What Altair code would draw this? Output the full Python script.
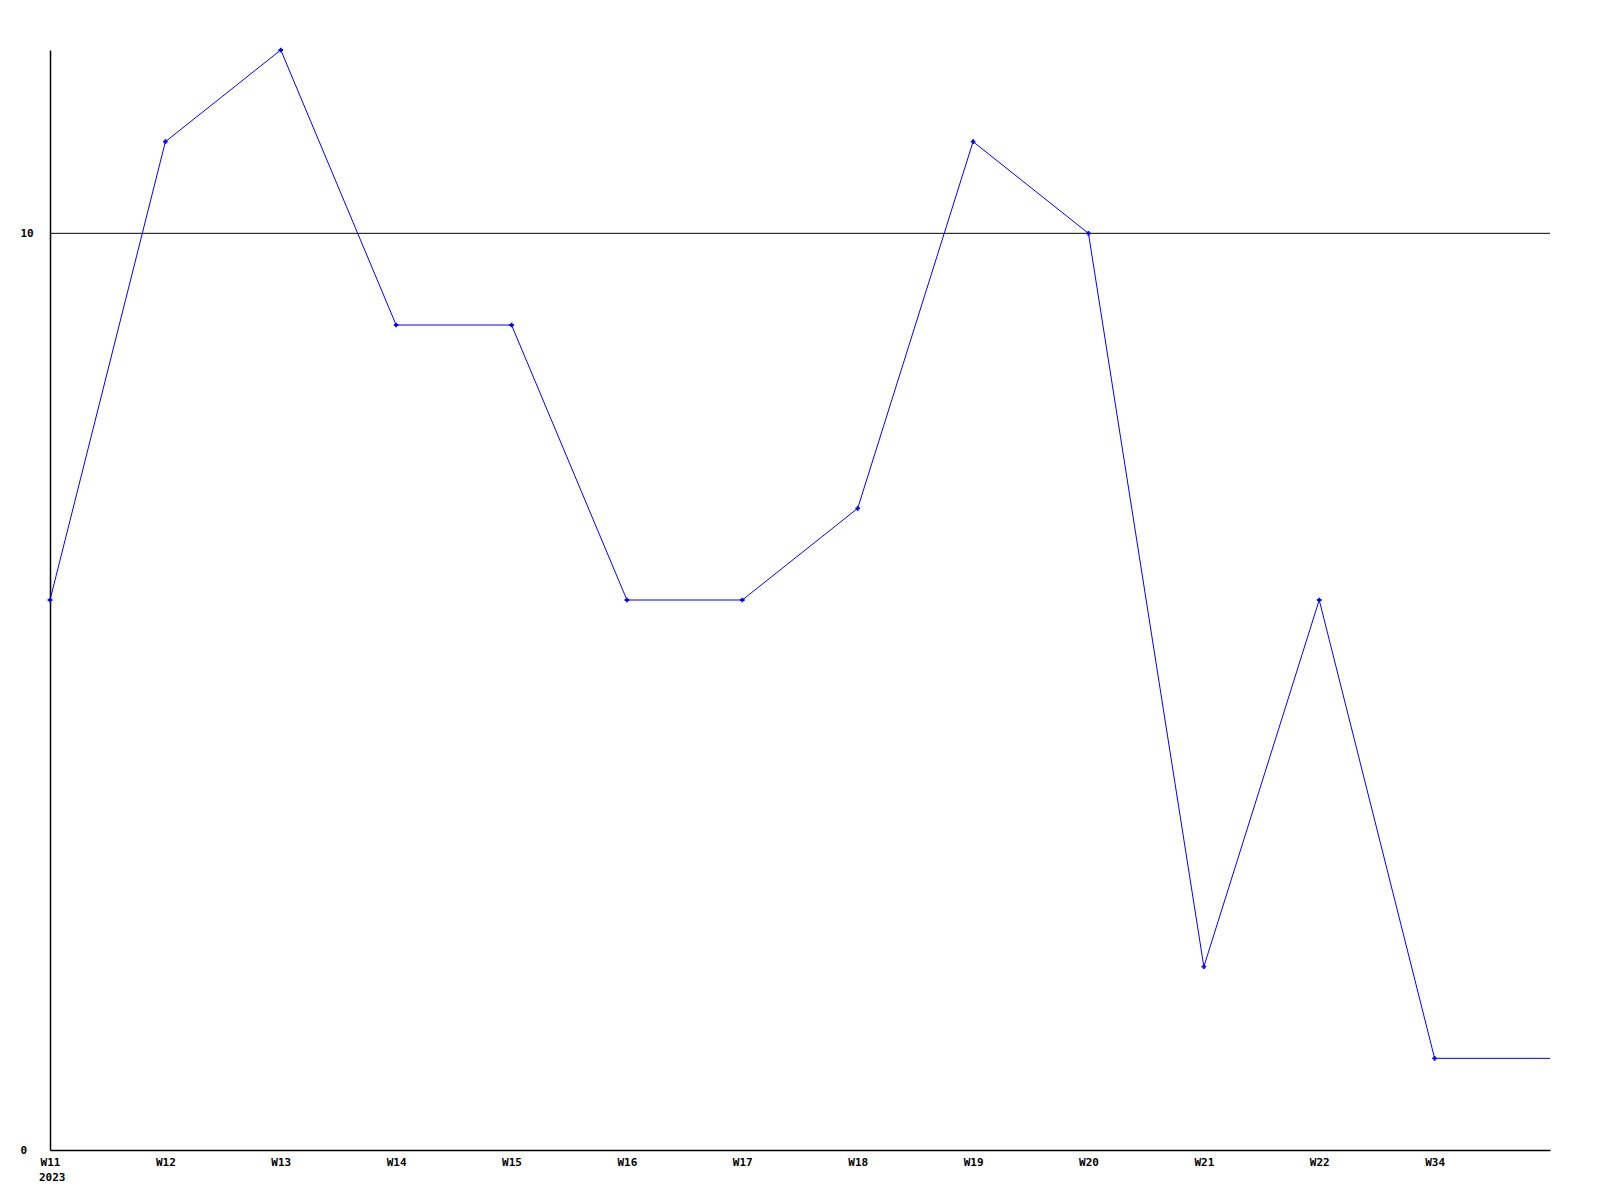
import altair as alt
import pandas as pd

weeks = ["W11", "W12", "W13", "W14", "W15", "W16", "W17", "W18", "W19", "W20", "W21", "W22", "W34"]
values = [6, 11, 12, 9, 9, 6, 6, 7, 11, 10, 2, 6, 1]
tail_value = 1  # line continues to the right edge at the last value
year_label = ["2023"]
threshold = [10]

idx = list(range(len(weeks)))
df = pd.DataFrame({"i": idx + [len(weeks)], "v": values + [tail_value]})
pts = pd.DataFrame({"i": idx, "v": values, "w": weeks})
thr = pd.DataFrame({"t": threshold})
yr = pd.DataFrame({"i": [0], "y": year_label})

FONT = "DejaVu Sans Mono"
label_js = "[" + ",".join("'%s'" % w for w in weeks) + "]"

xscale = alt.Scale(domain=[0, len(weeks)], nice=False, zero=False)
yscale = alt.Scale(domain=[0, 12], nice=False)

xaxis = alt.Axis(
    values=idx, labelExpr=label_js + "[datum.value]", title=None, grid=False,
    ticks=False, domainColor="black", domainWidth=1.5, labelFont=FONT, labelFontWeight="bold",
    labelFontSize=11, labelColor="black", labelPadding=6, labelFlush=False, labelOverlap=False,
)
yaxis = alt.Axis(
    values=[0, 10], title=None, grid=False, ticks=False, domainColor="black", domainWidth=1.5,
    labelFont=FONT, labelFontWeight="bold", labelFontSize=11, labelColor="black",
    labelPadding=30, labelAlign="left", format="d",
)

line = alt.Chart(df).mark_line(color="#0000ff", strokeWidth=1).encode(
    x=alt.X("i:Q", scale=xscale, axis=xaxis),
    y=alt.Y("v:Q", scale=yscale, axis=yaxis),
)
points = alt.Chart(pts).mark_point(shape="cross", filled=True, color="#0000ff", size=22, opacity=1).encode(
    x=alt.X("i:Q", scale=xscale),
    y=alt.Y("v:Q", scale=yscale),
)
rule = alt.Chart(thr).mark_rule(color="black", strokeWidth=1).encode(
    y=alt.Y("t:Q", scale=yscale),
)
year = alt.Chart(yr).mark_text(
    font=FONT, fontWeight="bold", fontSize=11, color="black", align="left", baseline="top", dx=-11, dy=22,
).encode(
    x=alt.X("i:Q", scale=xscale),
    y=alt.value(1100),
    text="y:N",
)

chart = alt.layer(rule, line, points, year).properties(
    width=1500, height=1100,
    autosize=alt.AutoSizeParams(type="none"),
    padding={"left": 42, "top": 42, "right": 42, "bottom": 42},
).configure(background="white").configure_view(strokeWidth=0, stroke="transparent")

chart.save("out.html", embed_options={"renderer": "svg", "actions": False})
